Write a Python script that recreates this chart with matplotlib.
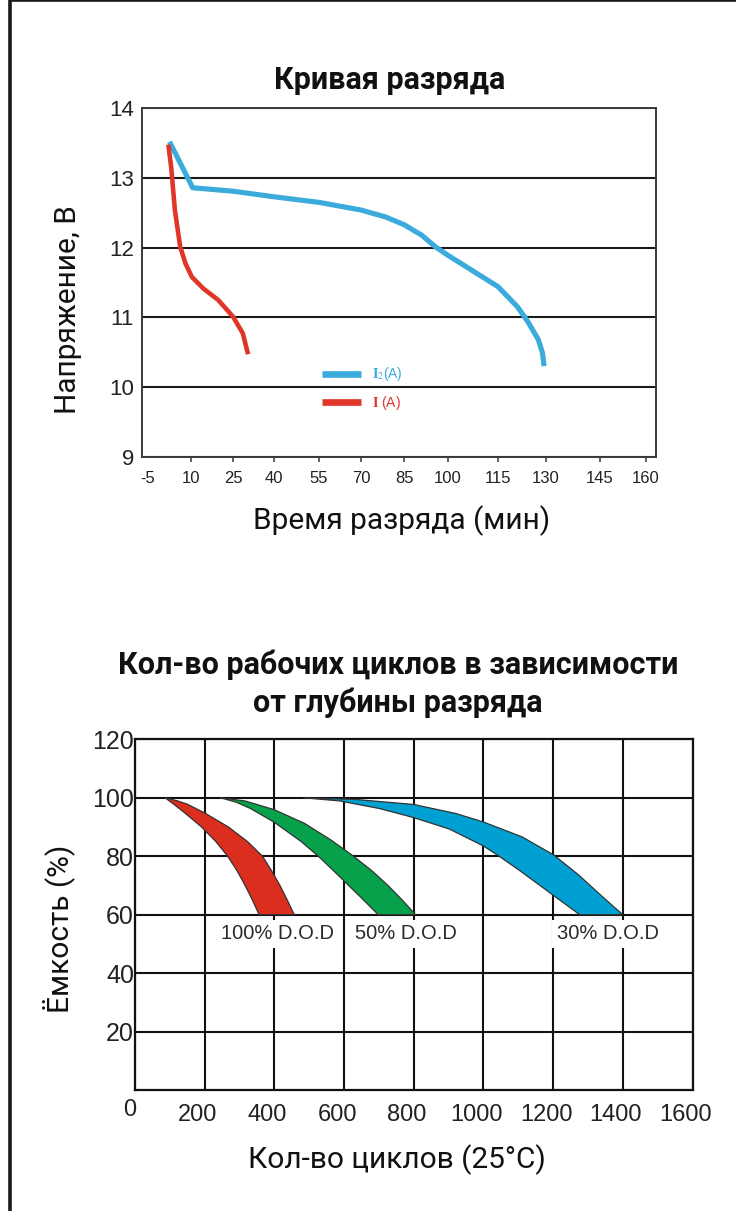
import numpy as np
import matplotlib
matplotlib.use('Agg')
import matplotlib.pyplot as plt
from matplotlib.patches import Rectangle
from matplotlib.transforms import ScaledTranslation

plt.rcParams['mathtext.fontset'] = 'stix'

# --- discharge curve data (minutes, volts) ---
time_ticks = [-5, 10, 25, 40, 55, 70, 85, 100, 115, 130, 145, 160]
volt_ticks = [9, 10, 11, 12, 13, 14]

i2_time = [2.5, 10.6, 25, 40, 55, 70, 78.6, 85, 91, 95.8, 100, 107, 115, 121.1, 124.3, 127.6, 128.9, 129.4]
i2_volt = [13.52, 12.86, 12.81, 12.73, 12.65, 12.54, 12.44, 12.33, 12.18, 12.01, 11.89, 11.68, 11.44, 11.15, 10.94, 10.68, 10.49, 10.30]

i_time = [2.1, 3.1, 4.4, 6.25, 8.1, 10.3, 14.5, 19.7, 25, 28.6, 30.5]
i_volt = [13.48, 13.15, 12.53, 12.01, 11.77, 11.58, 11.41, 11.25, 11.01, 10.77, 10.47]

# --- cycle life data (cycles, capacity %) ---
cycle_ticks = [0, 200, 400, 600, 800, 1000, 1200, 1400, 1600]
cap_ticks = [20, 40, 60, 80, 100, 120]

dod100_outer_x = [86, 120, 150, 200, 268, 323, 366, 392, 416, 437, 457]
dod100_outer_y = [100, 99, 97.8, 94.8, 90, 85, 80, 75, 70, 65, 60]
dod100_inner_x = [86, 109, 141, 191, 232, 266, 293, 316, 337, 356]
dod100_inner_y = [100, 98, 95, 90, 85, 80, 75, 70, 65, 60]

dod50_outer_x = [245, 316, 400, 487, 563, 627, 680, 726, 767, 805]
dod50_outer_y = [100, 98.9, 95.9, 91.2, 85.5, 80, 75, 70, 65, 60]
dod50_inner_x = [245, 290, 330, 400, 477, 526, 570, 613, 656, 698]
dod50_inner_y = [100, 98.5, 96.4, 91.6, 85, 80, 75, 70, 65, 60]

dod30_outer_x = [483, 635, 800, 921, 1000, 1111, 1202, 1273, 1330, 1373, 1400]
dod30_outer_y = [100, 99.4, 97.7, 94.6, 91.7, 86.6, 80.4, 73.6, 67.4, 62.8, 60]
dod30_inner_x = [483, 588, 702, 800, 902, 1000, 1045, 1105, 1162, 1219, 1276]
dod30_inner_y = [100, 98.9, 96.3, 93.2, 89.3, 83.5, 80, 75, 70, 65, 60]

dod_labels = ['100% D.O.D', '50% D.O.D', '30% D.O.D']
dod_label_x = [410, 778, 1357]

W, H = 736, 1211
fig = plt.figure(figsize=(W / 100, H / 100), dpi=100)


def fx(px):
    return px / W


def fy(py):
    return 1 - py / H


TXT = ['Roboto', 'DejaVu Sans']
NUM = ['Liberation Sans', 'DejaVu Sans']

# page frame
fig.add_artist(Rectangle((fx(9.5), fy(1300)), fx(800), 1300 / H, transform=fig.transFigure,
                         fill=False, ec='#1a1a1a', lw=2.6))

# ---------------- top chart ----------------
tick_px = [148, 191, 233, 274, 319, 361, 404, 448, 498, 546, 600, 646]
xs_ext = np.array([-1000] + time_ticks + [1000], dtype=float)
px_ext = np.array([148 - 995 * 43 / 15] + tick_px + [646 + 840 * 46 / 15], dtype=float)


def fwd(x):
    return np.interp(x, xs_ext, px_ext)


def inv(p):
    return np.interp(p, px_ext, xs_ext)


ax1 = fig.add_axes([fx(141.7), fy(456.7), fx(656 - 141.7), (456.7 - 108.3) / H])
ax1.set_xscale('function', functions=(fwd, inv))
ax1.set_xlim(inv(141.7), inv(656))
ax1.set_ylim(9, 13.975)

blue_line, = ax1.plot(i2_time, i2_volt, color='#3aabdb', lw=3.7, solid_capstyle='butt', zorder=3)
red_line, = ax1.plot(i_time, i_volt, color='#e0362a', lw=3.3, solid_capstyle='butt', zorder=3)

ax1.set_xticks(time_ticks)
ax1.set_xticklabels([str(t) for t in time_ticks])
ax1.set_yticks(volt_ticks)
ax1.yaxis.grid(True, color='#1a1a1a', lw=1.5)
ax1.set_axisbelow(True)
ax1.tick_params(axis='x', length=3.6, width=1.2, color='#444444', pad=6.5, labelsize=12,
                labelcolor='#222222')
ax1.tick_params(axis='y', length=0, pad=5.5, labelsize=16, labelcolor='#222222')
ax1.xaxis.get_major_ticks()[0].tick1line.set_visible(False)
for lab in ax1.get_xticklabels() + ax1.get_yticklabels():
    lab.set_family(NUM)
for s in ax1.spines.values():
    s.set_color('#3a3a3a')
    s.set_linewidth(1.4)

leg = ax1.legend([blue_line, red_line], [r'$\mathbf{I}_2$(A)', r'$\mathbf{I}$ (A)'],
                 loc='upper left', bbox_to_anchor=(0.350, 0.262), frameon=False,
                 borderpad=0, borderaxespad=0, handlelength=2.8, handletextpad=0.85,
                 labelspacing=0.75, prop={'family': NUM, 'size': 10})
for h in leg.legend_handles:
    h.set_linewidth(4.8)
for t, c in zip(leg.get_texts(), ['#3aabdb', '#e0362a']):
    t.set_color(c)

fig.text(fx(390), fy(80), 'Кривая разряда', ha='center', va='center', fontsize=22,
         fontweight='bold', family=TXT, color='#111111')
fig.text(fx(68), fy(310), 'Напряжение, В', ha='center', va='center', rotation=90,
         fontsize=21.5, family=TXT, color='#111111')
fig.text(fx(402), fy(521), 'Время разряда (мин)', ha='center', va='center',
         fontsize=21.5, family=TXT, color='#111111')

# ---------------- bottom chart ----------------
ax2 = fig.add_axes([fx(135), fy(1090), fx(692.5 - 135), (1090 - 739.3) / H])
ax2.set_xlim(0, 1600)
ax2.set_ylim(0, 120)

bands = [
    (dod100_outer_x, dod100_outer_y, dod100_inner_x, dod100_inner_y, '#dc2e1f'),
    (dod50_outer_x, dod50_outer_y, dod50_inner_x, dod50_inner_y, '#07a04b'),
    (dod30_outer_x, dod30_outer_y, dod30_inner_x, dod30_inner_y, '#00a0d2'),
]
for ox, oy, ix, iy, col in bands:
    xs = list(ox) + list(ix[::-1])
    ys = list(oy) + list(iy[::-1])
    ax2.fill(xs, ys, facecolor=col, edgecolor='#333333', lw=0.9, zorder=3)

for lab, lx in zip(dod_labels, dod_label_x):
    ax2.text(lx, 53.4, lab, ha='center', va='center', fontsize=14.5,
             family=NUM, color='#2a2a2a', zorder=4,
             bbox=dict(facecolor='white', edgecolor='none', pad=3.5))

ax2.set_xticks(cycle_ticks)
ax2.set_xticklabels([str(c) for c in cycle_ticks])
ax2.set_yticks(cap_ticks)
ax2.set_yticklabels([str(c) for c in cap_ticks])
ax2.grid(True, color='#111111', lw=1.5)
ax2.set_axisbelow(True)
ax2.tick_params(axis='x', length=0, pad=10, labelsize=17, labelcolor='#222222')
ax2.tick_params(axis='y', length=0, pad=0.8, labelsize=18, labelcolor='#222222')
shift = ScaledTranslation(-7 / 100, 0, fig.dpi_scale_trans)
for i, lab in enumerate(ax2.get_xticklabels()):
    lab.set_family(NUM)
    if i == 0:
        lab.set_transform(lab.get_transform() + ScaledTranslation(-5 / 100, 5 / 100, fig.dpi_scale_trans))
    else:
        lab.set_transform(lab.get_transform() + shift)
for lab in ax2.get_yticklabels():
    lab.set_family(NUM)
for s in ax2.spines.values():
    s.set_color('#111111')
    s.set_linewidth(1.6)

fig.text(fx(398), fy(665), 'Кол-во рабочих циклов в зависимости', ha='center', va='center',
         fontsize=22, fontweight='bold', family=TXT, color='#111111')
fig.text(fx(398), fy(703), 'от глубины разряда', ha='center', va='center',
         fontsize=22, fontweight='bold', family=TXT, color='#111111')
fig.text(fx(59), fy(929), 'Ёмкость (%)', ha='center', va='center', rotation=90,
         fontsize=21.5, family=TXT, color='#111111')
fig.text(fx(397), fy(1160), 'Кол-во циклов (25°C)', ha='center', va='center',
         fontsize=21.5, family=TXT, color='#111111')

fig.savefig('out.png', dpi=100)
